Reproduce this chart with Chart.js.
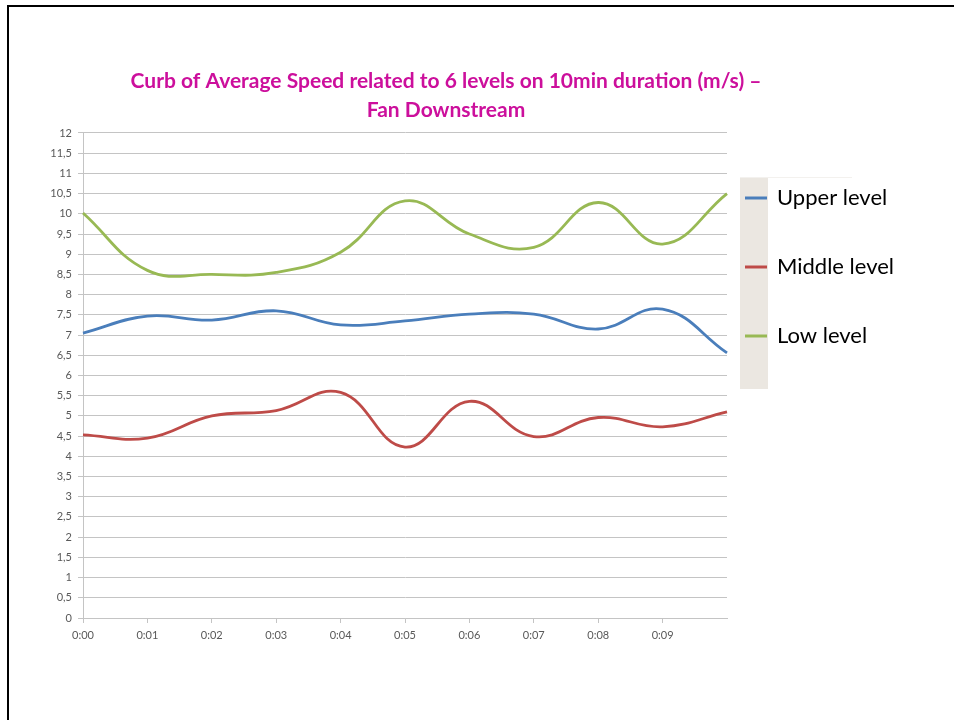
<!DOCTYPE html>
<html>
<head>
<meta charset="utf-8">
<script src="https://cdn.jsdelivr.net/npm/chart.js@4.4.1/dist/chart.umd.min.js"></script>
<style>
  html, body { margin: 0; padding: 0; background: #fff; width: 954px; height: 720px; overflow: hidden; }
  #frame { position: absolute; left: 7px; top: 5px; width: 960px; height: 730px;
           border-left: 2px solid #000; border-top: 2px solid #000; box-sizing: border-box; }
  #wrap { position: absolute; left: 0; top: 0; width: 954px; height: 720px; }
</style>
</head>
<body>
<div id="frame"></div>
<div id="wrap"><canvas id="c"></canvas></div>
<script>
// Time stamps along the 10 minute run (last point carries no label)
const timeLabels = ['0:00', '0:01', '0:02', '0:03', '0:04', '0:05', '0:06', '0:07', '0:08', '0:09', ''];

// Average speed (m/s) per level
const upperLevel  = [7.05, 7.47, 7.37, 7.60, 7.25, 7.35, 7.52, 7.52, 7.15, 7.64, 6.56];
const middleLevel = [4.53, 4.45, 5.00, 5.13, 5.58, 4.23, 5.36, 4.49, 4.96, 4.73, 5.10];
const lowLevel    = [10.02, 8.60, 8.50, 8.55, 9.05, 10.32, 9.50, 9.17, 10.28, 9.25, 10.50];

const seriesNames = ['Upper level', 'Middle level', 'Low level'];
const titleLines = ['Curb of Average Speed related to 6 levels on 10min duration (m/s) \u2013', 'Fan Downstream'];

const GRID = '#c4c4c4';
const TICK_TEXT = '#595959';
const FONT = 'Lato, Carlito, Calibri, "Open Sans", sans-serif';

// Legend drawn as a panel with a shaded strip on the right of the plot
const sideLegend = {
  id: 'sideLegend',
  afterDraw(chart) {
    const ctx = chart.ctx;
    const area = chart.chartArea;
    const x0 = area.right + 13;
    ctx.save();
    ctx.fillStyle = '#ebe7e1';
    ctx.fillRect(x0, 177, 28, 212);
    ctx.strokeStyle = '#f3f1ee';
    ctx.lineWidth = 1;
    ctx.beginPath();
    ctx.moveTo(x0, 177.5);
    ctx.lineTo(x0 + 112, 177.5);
    ctx.stroke();
    ctx.font = '22px ' + FONT;
    ctx.textBaseline = 'middle';
    chart.data.datasets.forEach((ds, i) => {
      const y = 198 + i * 69;
      ctx.strokeStyle = ds.borderColor;
      ctx.lineWidth = 3;
      ctx.beginPath();
      ctx.moveTo(x0 + 5, y);
      ctx.lineTo(x0 + 27, y);
      ctx.stroke();
      ctx.fillStyle = '#000';
      ctx.fillText(ds.label, x0 + 37, y);
    });
    ctx.restore();
  }
};

function lineSet(label, data, color) {
  return {
    label, data,
    borderColor: color,
    backgroundColor: color,
    borderWidth: 2.8,
    pointRadius: 0,
    pointHoverRadius: 0,
    tension: 0.42,
    fill: false
  };
}

new Chart(document.getElementById('c'), {
  type: 'line',
  data: {
    labels: timeLabels,
    datasets: [
      lineSet(seriesNames[0], upperLevel, '#4a7ebb'),
      lineSet(seriesNames[1], middleLevel, '#be4b48'),
      lineSet(seriesNames[2], lowLevel, '#98b954')
    ]
  },
  options: {
    responsive: true,
    maintainAspectRatio: false,
    animation: false,
    layout: { padding: { left: 20, right: 82, top: 0, bottom: 78 } },
    plugins: {
      legend: { display: false },
      tooltip: { enabled: false },
      title: {
        display: true,
        text: titleLines,
        color: '#cc0f9c',
        font: { family: FONT, size: 21, weight: 'bold', lineHeight: 1.38 },
        padding: { top: 67, bottom: 8 }
      }
    },
    scales: {
      x: {
        offset: false,
        grid: {
          drawOnChartArea: false,
          drawTicks: true,
          tickLength: 5,
          color: (c) => (c.index === timeLabels.length - 1 ? 'rgba(0,0,0,0)' : GRID)
        },
        border: { color: GRID, width: 1 },
        ticks: {
          color: TICK_TEXT,
          font: { family: FONT, size: 11 },
          maxRotation: 0,
          autoSkip: false,
          padding: 6
        },
        afterFit(scale) { scale.height = 24; }
      },
      y: {
        min: 0,
        max: 12,
        grid: { color: GRID, tickLength: 5, lineWidth: 1 },
        border: { color: GRID, width: 1 },
        ticks: {
          stepSize: 0.5,
          color: TICK_TEXT,
          font: { family: FONT, size: 11 },
          padding: 6,
          callback: (v) => String(v).replace('.', ',')
        },
        afterFit(scale) { scale.width = 63; }
      },
      // empty right-hand band that holds the legend panel
      legendBand: {
        type: 'linear',
        position: 'right',
        display: true,
        grid: { display: false },
        border: { display: false },
        ticks: { display: false },
        afterFit(scale) { scale.width = 145; }
      }
    }
  },
  plugins: [sideLegend]
});
</script>
</body>
</html>
